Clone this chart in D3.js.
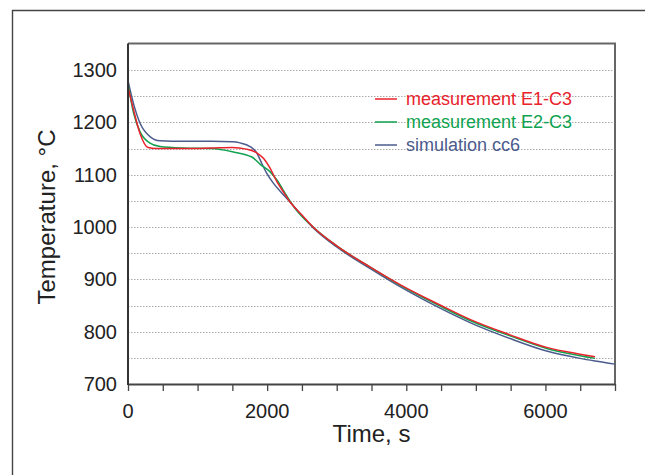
<!DOCTYPE html>
<html>
<head>
<meta charset="utf-8">
<script src="https://cdn.jsdelivr.net/npm/d3@7/dist/d3.min.js"></script>
<style>
  html, body { margin: 0; padding: 0; background: #fff; }
  svg { display: block; }
  text { font-family: "Liberation Sans", Arial, Helvetica, sans-serif; }
</style>
</head>
<body>
<svg id="chart" width="645" height="475"></svg>
<script>
// ---- data ----
const timeE1 = [0, 80, 170, 290, 400, 800, 1200, 1500, 1700, 1850, 1950, 2040, 2140, 2230, 2330, 2500, 2660, 3000, 3500, 3910, 4485, 4940, 5491, 6018, 6497, 6713];
const tempE1 = [1268, 1224, 1180, 1152, 1150, 1150, 1151, 1152, 1149, 1142, 1131, 1113, 1087, 1068, 1048, 1023, 1000, 964, 922, 890, 851, 822, 794, 770, 757, 752];

const timeE2 = [0, 80, 170, 310, 460, 800, 1200, 1500, 1780, 1900, 2040, 2140, 2280, 2400, 2660, 3000, 3500, 3910, 4485, 4940, 5491, 6018, 6497, 6713];
const tempE2 = [1274, 1218, 1183, 1161, 1154, 1151, 1150, 1144, 1134, 1120, 1106, 1090, 1060, 1036, 1000, 964, 922, 889, 849, 820, 792, 768, 754, 749];

const timeSim = [0, 77, 172, 316, 460, 800, 1200, 1500, 1610, 1754, 1850, 1922, 1993, 2089, 2233, 2329, 2500, 2660, 3000, 3500, 3910, 4485, 4940, 5491, 6018, 6497, 6713, 7000];
const tempSim = [1280, 1237, 1199, 1173, 1165, 1164, 1164, 1163, 1161, 1154, 1142, 1122, 1103, 1084, 1062, 1048, 1022, 999, 962, 919, 886, 845, 816, 787, 763, 749, 744, 738];

const seriesNames = ["measurement E1-C3", "measurement E2-C3", "simulation cc6"];
const seriesColors = ["#e8232b", "#0fa24f", "#4b5b8c"];

const yTicks = [700, 800, 900, 1000, 1100, 1200, 1300];
const yGrid = [750, 800, 850, 900, 950, 1000, 1050, 1100, 1150, 1200, 1250, 1300];
const xLabelTicks = [0, 2000, 4000, 6000];
const xMinorTicks = [0, 500, 1000, 1500, 2000, 2500, 3000, 3500, 4000, 4500, 5000, 5500, 6000, 6500, 7000];

// ---- layout ----
const svg = d3.select("#chart");
const L = 128, R = 615, T = 43.5, B = 384;
const x = d3.scaleLinear().domain([0, 7000]).range([L, R]);
const y = d3.scaleLinear().domain([700, 1350]).range([B, T + 0.5]);

// outer frame (left and top edges)
svg.append("path")
  .attr("d", `M12.5,480 L12.5,10.5 L650,10.5`)
  .attr("fill", "none").attr("stroke", "#444").attr("stroke-width", 1.4);

// grid
svg.append("g").selectAll("line").data(yGrid).join("line")
  .attr("x1", L).attr("x2", R)
  .attr("y1", d => Math.round(y(d)) + 0.5).attr("y2", d => Math.round(y(d)) + 0.5)
  .attr("stroke", "#aaa").attr("stroke-width", 1).attr("stroke-dasharray", "1.5,1.5");

// plot box (top and right)
svg.append("path")
  .attr("d", `M${L},${T} L${R},${T} L${R},${B}`)
  .attr("fill", "none").attr("stroke", "#666").attr("stroke-width", 2);

// lines
const series = [
  { t: timeE1, v: tempE1 },
  { t: timeE2, v: tempE2 },
  { t: timeSim, v: tempSim }
];
const line = d3.line().x(d => x(d[0])).y(d => y(d[1])).curve(d3.curveMonotoneX);
const drawOrder = [2, 1, 0];
drawOrder.forEach(i => {
  const s = series[i];
  svg.append("path")
    .datum(s.t.map((tt, k) => [tt, s.v[k]]))
    .attr("d", line)
    .attr("fill", "none")
    .attr("stroke", seriesColors[i])
    .attr("stroke-width", 1.5);
});

// x axis
const xAxis = d3.axisBottom(x).tickValues(xMinorTicks).tickSize(7).tickFormat("");
const gx = svg.append("g").attr("transform", `translate(0,${B})`).call(xAxis);
gx.select(".domain").attr("stroke", "#444").attr("stroke-width", 2).attr("d", `M${L},0.5H${R}`);
gx.selectAll(".tick line").attr("stroke", "#444").attr("stroke-width", 1.3);
svg.append("g").selectAll("text").data(xLabelTicks).join("text")
  .attr("x", d => x(d)).attr("y", 418)
  .attr("text-anchor", "middle")
  .attr("font-size", 20).attr("fill", "#222")
  .text(d => d);

// y axis
svg.append("line").attr("x1", L).attr("x2", L).attr("y1", T).attr("y2", B + 1)
  .attr("stroke", "#333").attr("stroke-width", 2);
svg.append("g").selectAll("text").data(yTicks).join("text")
  .attr("x", 117).attr("y", d => y(d) + 7)
  .attr("text-anchor", "end")
  .attr("font-size", 20).attr("fill", "#222")
  .text(d => d);

// axis titles
svg.append("text").attr("x", (L + R) / 2).attr("y", 442)
  .attr("text-anchor", "middle").attr("font-size", 24).attr("fill", "#222")
  .text("Time, s");
svg.append("text")
  .attr("transform", "translate(55,217) rotate(-90)")
  .attr("text-anchor", "middle").attr("font-size", 24).attr("fill", "#222")
  .text("Temperature, °C");

// legend
const lg = svg.append("g");
seriesNames.forEach((name, i) => {
  const yy = 99 + i * 23;
  lg.append("line").attr("x1", 375).attr("x2", 397).attr("y1", yy).attr("y2", yy)
    .attr("stroke", seriesColors[i]).attr("stroke-width", 1.5);
  lg.append("text").attr("x", 406).attr("y", yy + 6)
    .attr("font-size", 18).attr("fill", seriesColors[i])
    .text(name);
});
</script>
</body>
</html>
